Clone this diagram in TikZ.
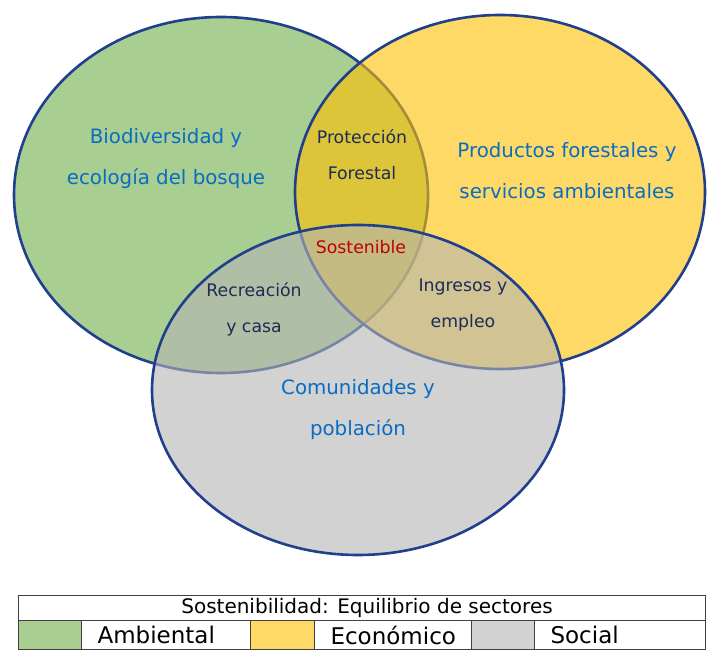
\documentclass[tikz,border=0pt]{standalone}
\usepackage{fontspec}
\setmainfont{DejaVu Sans}
\usetikzlibrary{shapes.geometric,positioning}
\definecolor{verde}{HTML}{70AD47}
\definecolor{oro}{HTML}{FFC000}
\definecolor{gris}{HTML}{B4B4B4}
\definecolor{borde}{HTML}{203F8C}
\definecolor{azul}{HTML}{0A6CC2}
\definecolor{marino}{HTML}{1E2B55}
\definecolor{rojo}{HTML}{C00000}

\begin{document}
\begin{tikzpicture}[x=1pt, y=-1pt,
  sector/.style={ellipse, draw=borde, line width=2.6pt, fill opacity=0.6,
    inner sep=0pt, outer sep=0pt},
  titulo/.style={align=center, text=azul, font=\fontsize{19.8}{41}\selectfont},
  cruce/.style={align=center, text=marino, font=\fontsize{17.3}{36}\selectfont},
  celda/.style={draw=black!75, line width=0.8pt},
  leyenda/.style={anchor=west, font=\fontsize{23}{24}\selectfont}]
  \useasboundingbox (0,0) rectangle (707,652);

  % Sectors
  \node[sector, fill=verde, minimum width=414pt, minimum height=356pt] (amb) at (221,195) {};
  \node[sector, fill=oro, minimum width=410pt, minimum height=354pt] (eco) at (500,192) {};
  \node[sector, fill=gris, minimum width=412pt, minimum height=330pt] (soc) at (358,390) {};

  % Labels
  \node[titulo] (bio) at (166,159) {Biodiversidad y\\ecología del bosque};
  \node[titulo] (prod) at (567,171) {Productos forestales y\\servicios ambientales};
  \node[titulo] (com) at (358,410) {Comunidades y\\población};
  \node[cruce] (prot) at (362,155) {Protección\\Forestal};
  \node[cruce] (rec) at (254,309) {Recreación\\y casa};
  \node[cruce] (ing) at (463,305) {Ingresos y\\empleo};
  \node[cruce, text=rojo] (sost) at (361,247) {Sostenible};

  % Legend
  \draw[celda] (18,595) rectangle (705,620);
  \node[font=\fontsize{20}{22}\selectfont] (head) at (367,607.5) {Sostenibilidad: Equilibrio de sectores};
  \draw[celda, fill=verde!60] (18,620) rectangle (81,649);
  \draw[celda] (81,620) rectangle (250,649);
  \draw[celda, fill=oro!60] (250,620) rectangle (314,649);
  \draw[celda] (314,620) rectangle (471,649);
  \draw[celda, fill=gris!60] (471,620) rectangle (534,649);
  \draw[celda] (534,620) rectangle (705,649);
  \node[leyenda] (l1) at (94,635) {Ambiental};
  \node[leyenda] (l2) at (327,635) {Económico};
  \node[leyenda] (l3) at (547,635) {Social};
\end{tikzpicture}
\end{document}
